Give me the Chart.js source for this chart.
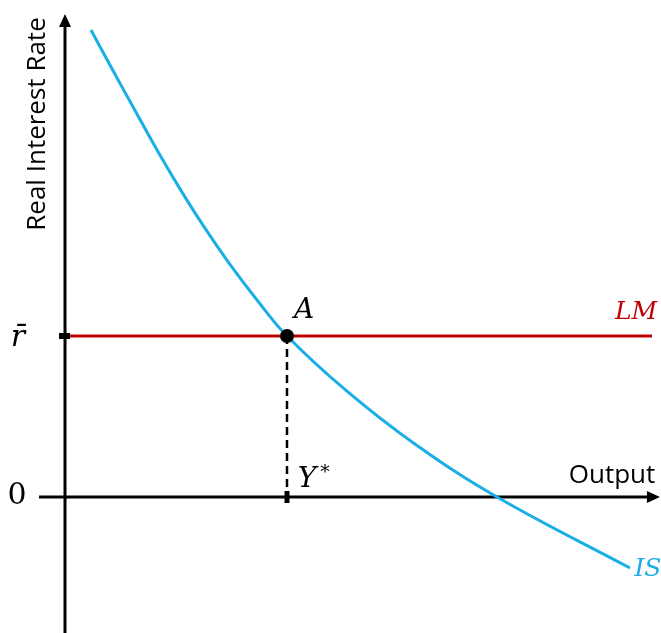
<!DOCTYPE html>
<html lang="en">
<head>
  <meta charset="UTF-8">
  <title>IS-LM</title>
  <script src="https://cdn.jsdelivr.net/npm/chart.js"></script>
  <style>
    body { margin: 0; background: #fff; }
    #wrap { width: 661px; height: 633px; position: relative; }
  </style>
</head>
<body>
  <div id="wrap"><canvas id="myChart"></canvas></div>
  <script>
    // IS curve (output, real rate), Y* = 1, r-bar = 1
    const isX = [0.117, 0.216, 0.311, 0.414, 0.518, 0.626, 0.743, 0.865, 1.0, 1.270, 1.568, 1.946, 2.545];
    const isY = [2.901, 2.649, 2.412, 2.157, 1.914, 1.679, 1.445, 1.224, 1.0, 0.657, 0.337, 0.0, -0.441];
    // LM is flat at r-bar
    const lmX = [0.02, 2.644];
    const lmY = [1.0, 1.0];
    // equilibrium A
    const eqX = 1.0;
    const eqY = 1.0;
    // axes extent
    const xAxisX = [-0.117, 2.68];
    const yAxisY = [-0.845, 3.0];
    const viewX = [-0.2928, 2.6847];
    const viewY = [-0.8447, 3.087];

    const toPts = (xs, ys) => xs.map((x, i) => ({ x: x, y: ys[i] }));

    const extras = {
      id: 'extras',
      afterDatasetsDraw(chart) {
        const c = chart.ctx;
        const xs = chart.scales.x, ys = chart.scales.y;
        const ox = xs.getPixelForValue(0), oy = ys.getPixelForValue(0);
        c.save();
        c.fillStyle = '#000';
        // arrow heads
        let tx = ox, ty = ys.getPixelForValue(yAxisY[1]);
        c.beginPath();
        c.moveTo(tx, ty); c.lineTo(tx - 6, ty + 13); c.lineTo(tx + 6, ty + 13); c.closePath(); c.fill();
        tx = xs.getPixelForValue(xAxisX[1]); ty = oy;
        c.beginPath();
        c.moveTo(tx, ty); c.lineTo(tx - 13, ty - 6); c.lineTo(tx - 13, ty + 6); c.closePath(); c.fill();
        // ticks
        const ax = xs.getPixelForValue(eqX), ay = ys.getPixelForValue(eqY);
        c.fillRect(ox - 6, ay - 3, 11, 6);
        c.fillRect(ax - 2.5, oy - 6, 5, 12);
        // text
        c.textAlign = 'center';
        c.textBaseline = 'middle';
        c.font = '26px "Open Sans"';
        c.fillText('Output', 612, oy - 21);
        c.save();
        c.translate(38, 124);
        c.rotate(-Math.PI / 2);
        c.fillText('Real Interest Rate', 0, 0);
        c.restore();
        c.font = '30px "DejaVu Serif"';
        c.fillText('0', 17, oy - 1);
        c.font = 'italic 30px "DejaVu Serif"';
        c.fillText('r\u0304', 18, ay + 2);
        c.font = 'italic 28px "DejaVu Serif"';
        c.fillText('A', ax + 17, ay - 25);
        c.fillText('Y', ax + 20, oy - 17);
        c.font = '19px "DejaVu Serif"';
        c.fillText('*', ax + 38, oy - 24);
        c.font = 'italic 25px "DejaVu Serif"';
        c.fillStyle = '#c00000';
        c.fillText('LM', 636, ay - 24);
        c.fillStyle = '#1aaee6';
        const ex = xs.getPixelForValue(isX[isX.length - 1]), ey = ys.getPixelForValue(isY[isY.length - 1]);
        c.fillText('IS', ex + 18, ey + 1);
        c.restore();
      }
    };

    new Chart(document.getElementById('myChart'), {
      type: 'scatter',
      data: {
        datasets: [
          {
            data: [{ x: eqX, y: eqY }],
            pointRadius: 7, pointBackgroundColor: '#000', pointBorderWidth: 0,
            order: 0
          },
          {
            data: toPts(isX, isY), showLine: true, borderColor: '#1aaee6', borderWidth: 3,
            tension: 0.4, pointRadius: 0, order: 1
          },
          {
            data: toPts(lmX, lmY), showLine: true, borderColor: '#c00000', borderWidth: 3,
            pointRadius: 0, order: 2
          },
          {
            data: [{ x: eqX, y: eqY }, { x: eqX, y: 0 }], showLine: true, borderColor: '#000',
            borderWidth: 2.5, borderDash: [8, 5], pointRadius: 0, order: 3
          },
          {
            data: [{ x: xAxisX[0], y: 0 }, { x: xAxisX[1] - 0.04, y: 0 }], showLine: true, borderColor: '#000',
            borderWidth: 3, pointRadius: 0, order: 4
          },
          {
            data: [{ x: 0, y: yAxisY[0] }, { x: 0, y: yAxisY[1] - 0.05 }], showLine: true, borderColor: '#000',
            borderWidth: 3, pointRadius: 0, order: 4
          }
        ]
      },
      options: {
        responsive: true,
        maintainAspectRatio: false,
        animation: false,
        layout: { padding: 0, autoPadding: false },
        plugins: { legend: { display: false }, tooltip: { enabled: false } },
        scales: {
          x: { type: 'linear', min: viewX[0], max: viewX[1], display: false },
          y: { type: 'linear', min: viewY[0], max: viewY[1], display: false }
        }
      },
      plugins: [extras]
    });
  </script>
</body>
</html>
